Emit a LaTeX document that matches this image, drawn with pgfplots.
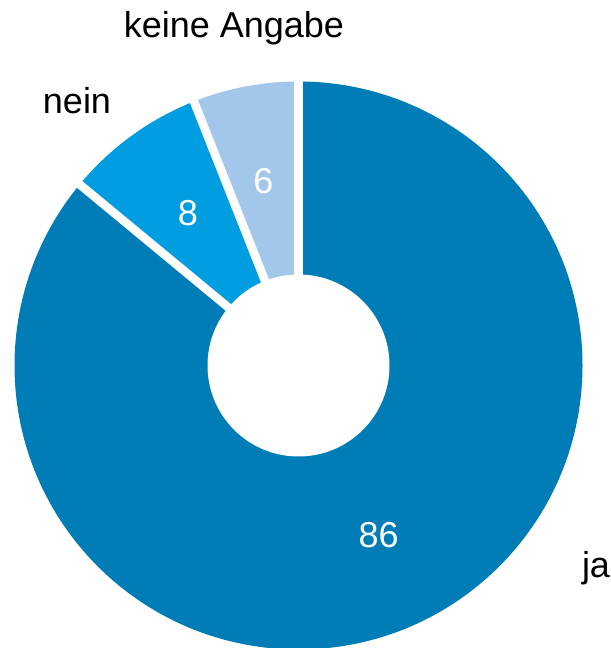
\documentclass[border=0pt]{standalone}
\usepackage{pgfplots}
\pgfplotsset{compat=1.18}
\usepackage{pgfplotstable}
\usetikzlibrary{calc}
\usepackage{fontspec}
\setmainfont{Liberation Sans}

\definecolor{cja}{RGB}{0,125,183}
\definecolor{cnein}{RGB}{0,158,224}
\definecolor{ckeine}{RGB}{162,199,234}

% share in percent
\pgfplotstableread{
label value
ja 86
nein 8
keine 6
}\datatable

\begin{document}
\begin{tikzpicture}
\pgfplotstablegetelem{0}{value}\of\datatable \let\vja\pgfplotsretval
\pgfplotstablegetelem{1}{value}\of\datatable \let\vnein\pgfplotsretval
\pgfplotstablegetelem{2}{value}\of\datatable \let\vkeine\pgfplotsretval
% start at 12 o'clock, clockwise
\pgfmathsetmacro\aA{90}
\pgfmathsetmacro\aB{\aA-3.6*\vja}
\pgfmathsetmacro\aC{\aB-3.6*\vnein}
\pgfmathsetmacro\aD{\aC-3.6*\vkeine}
\pgfmathsetmacro\mA{(\aA+\aB)/2}
\pgfmathsetmacro\mB{(\aB+\aC)/2}
\pgfmathsetmacro\mC{(\aC+\aD)/2}
\begin{axis}[
  width=611bp, height=648bp, scale only axis,
  xmin=0, xmax=611, ymin=0, ymax=648,
  hide axis, clip=false,
  font=\fontsize{36bp}{40bp}\selectfont,
]
\fill[cja] (axis cs:298.5,282.5) -- ++(\aA:284bp) arc[start angle=\aA, end angle=\aB, radius=284bp] -- cycle;
\fill[cnein] (axis cs:298.5,282.5) -- ++(\aB:284bp) arc[start angle=\aB, end angle=\aC, radius=284bp] -- cycle;
\fill[ckeine] (axis cs:298.5,282.5) -- ++(\aC:284bp) arc[start angle=\aC, end angle=\aD, radius=284bp] -- cycle;
% gaps between slices
\draw[white, line width=8.5bp] (axis cs:298.5,282.5) -- ++(\aA:292bp);
\draw[white, line width=8.5bp] (axis cs:298.5,282.5) -- ++(\aB:292bp);
\draw[white, line width=8.5bp] (axis cs:298.5,282.5) -- ++(\aC:292bp);
% hole
\fill[white] (axis cs:298.5,282.5) circle[radius=91bp];
% values
\node[white, font=\fontsize{36bp}{40bp}\selectfont] at ($(axis cs:298.5,282.5)+(\mA:188bp)$) {\vja};
\node[white, font=\fontsize{36bp}{40bp}\selectfont] at ($(axis cs:298.5,282.5)+(\mB:188bp)$) {\vnein};
\node[white, font=\fontsize{36bp}{40bp}\selectfont] at ($(axis cs:298.5,282.5)+(\mC:188bp)$) {\vkeine};
% category names
\node[anchor=base, inner sep=0pt] at (axis cs:234,610) {keine Angabe};
\node[anchor=base, inner sep=0pt] at (axis cs:77,534) {nein};
\node[anchor=base, inner sep=0pt] at (axis cs:596,70) {ja};
\end{axis}
\pgfresetboundingbox
\useasboundingbox (0,0) rectangle (611bp,648bp);
\end{tikzpicture}
\end{document}
